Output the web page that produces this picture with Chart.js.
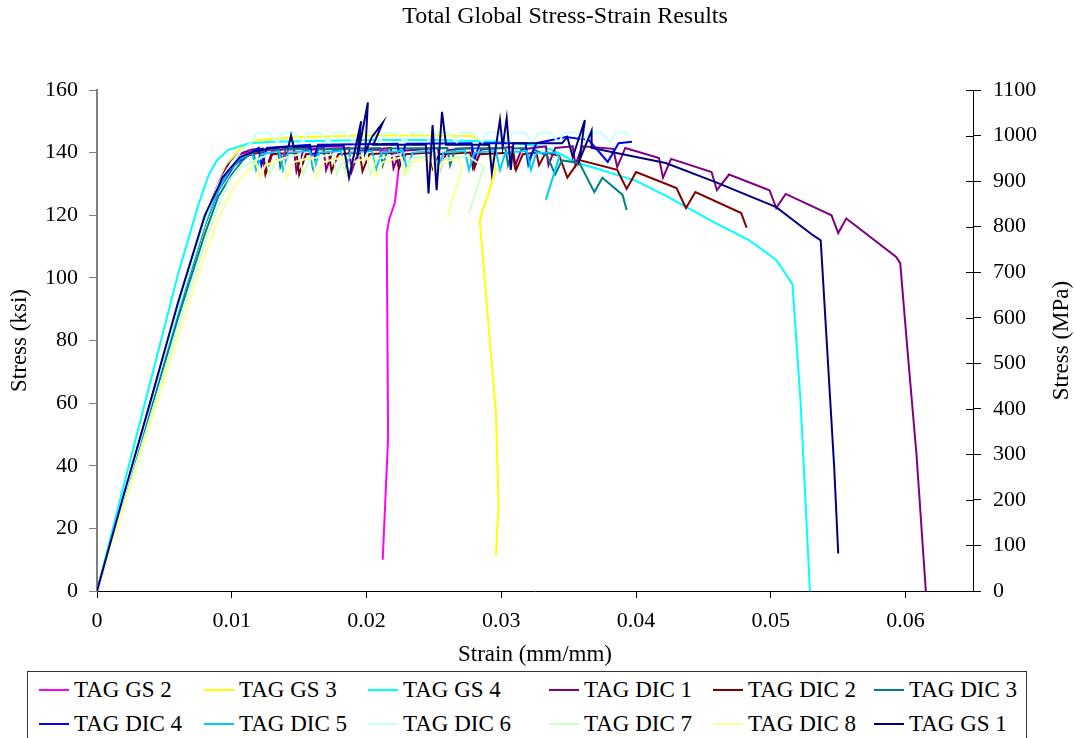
<!DOCTYPE html>
<html>
<head>
<meta charset="utf-8">
<script src="https://cdn.jsdelivr.net/npm/chart.js@4.4.1/dist/chart.umd.min.js"></script>
<style>
  body { margin: 0; background: #fff; }
  #wrap { position: relative; width: 1075px; height: 738px; overflow: hidden; }
  #legend { position: absolute; left: 27px; top: 671px; width: 1000px; height: 80px;
            border: 1px solid #333; box-sizing: border-box; background: #fff;
            font-family: "Liberation Serif", "Times New Roman", serif; font-size: 23px; }
  .item { position: absolute; white-space: nowrap; line-height: 24px; }
  .item i { display: inline-block; width: 30px; height: 2px; vertical-align: middle; margin-right: 5px; position: relative; top: -2px; }
</style>
</head>
<body>
<div id="wrap">
  <canvas id="stress" width="1075" height="738"></canvas>
  <div id="legend"></div>
</div>
<script>
// series names and colours (legend order)
const seriesNames = ['TAG GS 2', 'TAG GS 3', 'TAG GS 4', 'TAG DIC 1', 'TAG DIC 2', 'TAG DIC 3',
                     'TAG DIC 4', 'TAG DIC 5', 'TAG DIC 6', 'TAG DIC 7', 'TAG DIC 8', 'TAG GS 1'];
const seriesColors = ['#FF00FF', '#FFFF00', '#00FFFF', '#800080', '#800000', '#008080',
                      '#0000FF', '#00CCFF', '#CCFFFF', '#CCFFCC', '#FFFF99', '#000080'];

// [strain (mm/mm), stress (ksi)]
const gs2 = [[0,0],[0.002,30],[0.004,60],[0.006,90],[0.008,118],[0.009,130],[0.0098,136.5],[0.0105,139.5],
  [0.012,140.5],[0.0135,141],[0.0138,137],[0.0142,141],[0.016,141.2],[0.018,141.5],[0.02,141.2],[0.0215,140.5],
  [0.0222,139],[0.0224,135.4],[0.0221,124],[0.0217,119],[0.0215,114.3],[0.0216,49],[0.0212,10]];

const gs3 = [[0,0],[0.002,29],[0.004,58],[0.006,88],[0.008,116],[0.009,129],[0.0095,135],[0.0105,141],
  [0.012,144],[0.015,145],[0.02,145.5],[0.025,145.5],[0.0279,145.3],[0.029,142],[0.0296,134.5],
  [0.0284,118.5],[0.0296,57],[0.0298,27],[0.0296,11.5]];

const gs4 = [[0,0],[0.002,34],[0.004,67.5],[0.006,101],[0.0075,123],[0.0083,133],[0.0089,137.5],[0.0097,140.8],
  [0.0113,143],[0.013,143.5],[0.02,144],[0.025,144],[0.03,143.5],[0.033,142],[0.034,140.5],[0.0356,136.7],
  [0.0367,135.4],[0.04,131],[0.0424,125.8],[0.0459,117.5],[0.0484,112],[0.0504,105.7],[0.0516,98],
  [0.0522,61],[0.0529,0]];

const dic1 = [[0,0],[0.002,30],[0.004,61],[0.006,91],[0.008,119],[0.009,130],[0.0097,136],[0.0105,139.5],
  [0.0115,141],[0.0123,141.3],[0.0125,134],[0.013,140.5],[0.0146,141.5],[0.0148,134],[0.0153,140.5],
  [0.0168,141.5],[0.017,134.5],[0.0175,140.5],[0.0187,141.5],[0.0189,134],[0.0194,140.5],[0.0218,141.5],
  [0.022,135],[0.0225,140.5],[0.0253,141.5],[0.0255,135],[0.026,140.8],[0.0278,141.5],[0.028,135],
  [0.0285,141],[0.0308,141.8],[0.031,135.5],[0.0315,141],[0.0333,142],[0.0335,136],[0.034,141.5],
  [0.0353,142],[0.0355,136],[0.036,142],[0.0383,141.2],[0.0386,135.4],[0.0392,141.5],[0.0417,138.3],
  [0.042,132],[0.0426,138],[0.0456,133.8],[0.046,128],[0.0469,133],[0.0499,128],[0.0504,122.3],
  [0.0511,126.8],[0.0545,120],[0.055,114.3],[0.0556,119],[0.0593,106.7],[0.0596,104.7],[0.0602,73.8],
  [0.0608,44],[0.0615,0]];

const dic2 = [[0,0],[0.002,30],[0.004,60],[0.006,89],[0.008,117],[0.009,128],[0.0098,134.5],[0.0108,138.5],
  [0.012,140],[0.0123,140],[0.0125,133],[0.013,139.5],[0.0148,140],[0.015,133],[0.0155,139.5],[0.0172,140],
  [0.0174,134],[0.0179,139.5],[0.0195,140],[0.0197,134],[0.0202,139.5],[0.0222,140],[0.0224,135],
  [0.0229,139.5],[0.0247,140],[0.0249,135],[0.0254,139.5],[0.0277,140],[0.0279,135],[0.0284,139.5],
  [0.0309,140],[0.0311,134.5],[0.0316,139.5],[0.0326,140],[0.0328,136],[0.0333,140],[0.0343,139],
  [0.0349,132],[0.0358,137.6],[0.0386,134.5],[0.0393,128.4],[0.04,133.8],[0.043,128.7],[0.0437,122.3],
  [0.0444,127.4],[0.0478,120.7],[0.0482,116]];

const dic3 = [[0,0],[0.002,29],[0.004,58],[0.006,87],[0.008,114],[0.009,126],[0.01,133],[0.0108,137.5],
  [0.0116,140.5],[0.0118,135.5],[0.0122,140.5],[0.0134,141.5],[0.0136,135.5],[0.014,141],[0.0158,141.5],
  [0.016,135.5],[0.0164,141],[0.021,141.5],[0.0212,136],[0.0216,141.3],[0.026,141.5],[0.0262,136],
  [0.0266,141.3],[0.0303,141.5],[0.0305,136],[0.0309,141.3],[0.0318,141.5],[0.032,136],[0.0324,141],
  [0.0334,139],[0.034,133],[0.0345,137.5],[0.0358,136.7],[0.0369,127.4],[0.0375,132],[0.039,126.5],
  [0.0393,121.7]];

const dic4 = [[0,0],[0.002,30],[0.004,60],[0.006,89],[0.008,117],[0.009,128],[0.0102,136],[0.011,139],
  [0.012,141.5],[0.0122,136],[0.0126,141.5],[0.0158,142.5],[0.016,137],[0.0164,142.5],[0.0223,142.8],
  [0.0225,137],[0.0229,142.8],[0.0278,143],[0.028,137.5],[0.0284,143],[0.0318,143],[0.032,137],
  [0.0326,143],[0.0348,145],[0.0365,144],[0.0379,137],[0.0387,143],[0.0397,143.5]];

const dic5 = [[0,0],[0.002,30],[0.004,60],[0.006,89],[0.008,117],[0.009,128],[0.0098,134],[0.0106,138],
  [0.0115,140],[0.0118,134.5],[0.0122,139.5],[0.0135,140.5],[0.0138,134.5],[0.0142,140],[0.0158,140.5],
  [0.0161,134.5],[0.0165,140],[0.0181,140.5],[0.0184,134.5],[0.0188,140],[0.0204,140.5],[0.0207,134.5],
  [0.0211,140],[0.0227,140.5],[0.023,134.5],[0.0234,140],[0.025,140.5],[0.0253,134.5],[0.0257,140],
  [0.0273,140.5],[0.0276,134.5],[0.028,140],[0.0296,140.5],[0.0299,134.5],[0.0303,140],[0.0319,140.5],
  [0.0322,134.5],[0.0326,140],[0.034,140],[0.0343,138.6],[0.0333,124.9]];

const dic6 = [[0,0],[0.002,30],[0.004,60],[0.006,90],[0.008,118],[0.009,130],[0.01,137],[0.0108,141],
  [0.0115,143.3],[0.0118,146.3],[0.0127,146.5],[0.0131,144.5],[0.0134,143.3],[0.0137,146.3],[0.0146,146.5],
  [0.015,144.5],[0.0153,143.3],[0.0156,146.3],[0.0165,146.5],[0.0169,144.5],[0.0172,143.3],[0.0175,146.3],
  [0.0184,146.5],[0.0188,144.5],[0.0191,143.3],[0.0194,146.3],[0.0203,146.5],[0.0207,144.5],[0.021,143.3],
  [0.0213,146.3],[0.0222,146.5],[0.0226,144.5],[0.0229,143.3],[0.0232,146.3],[0.0241,146.5],[0.0245,144.5],
  [0.0248,143.3],[0.0251,146.3],[0.026,146.5],[0.0264,144.5],[0.0267,143.3],[0.027,146.3],[0.0279,146.5],
  [0.0283,144.5],[0.0286,143.3],[0.0289,146.3],[0.0298,146.5],[0.0302,144.5],[0.0305,143.3],[0.0308,146.3],
  [0.0317,146.5],[0.0321,144.5],[0.0324,143.3],[0.0327,146.3],[0.0336,146.5],[0.034,144.5],[0.0343,143.3],
  [0.0346,146.3],[0.0355,146.5],[0.0359,144.5],[0.0362,143.3],[0.0365,146.3],[0.0374,146.5],[0.0378,144.5],
  [0.0381,143.3],[0.0384,146.3],[0.0392,146.5],[0.0395,145]];

const dic7 = [[0,0],[0.002,28],[0.004,56],[0.006,84],[0.008,111],[0.009,123],[0.0098,131],[0.0105,135],
  [0.0115,137],[0.0125,139],[0.0128,133],[0.0133,137.5],[0.015,139.5],[0.0153,133],[0.0158,138],
  [0.0175,139.5],[0.0178,133],[0.0183,138],[0.02,139.5],[0.0203,133],[0.0208,138],[0.0225,139.5],
  [0.0228,133],[0.0233,138],[0.025,139.5],[0.0253,133],[0.0258,138],[0.0275,139],[0.0287,135.4],
  [0.0276,120.7]];

const dic8 = [[0,0],[0.002,27],[0.004,54],[0.006,81],[0.008,107],[0.009,119],[0.01,128],[0.0105,131],
  [0.0112,134],[0.0118,137],[0.0121,132],[0.0125,136],[0.0138,138],[0.0141,132],[0.0146,137],[0.016,138.5],
  [0.0163,132],[0.0168,137],[0.0182,138.5],[0.0185,132.5],[0.019,137],[0.0204,138.5],[0.0207,132.5],
  [0.0212,137],[0.0226,138.5],[0.0229,133],[0.0234,137],[0.0248,138.5],[0.0251,133],[0.0256,137],
  [0.0268,138],[0.0271,135.4],[0.026,119.4]];

const gs1 = [[0,0],[0.002,31],[0.004,61],[0.006,92],[0.008,120],[0.009,129],[0.0093,132],[0.0106,138.6],
  [0.0118,140.5],[0.013,141.5],[0.0142,141.8],[0.0144,145.5],[0.0146,141.8],[0.0183,142.3],[0.0187,132],
  [0.0196,150],[0.0193,138],[0.0201,156],[0.0199,140],[0.0204,145],[0.0212,149.5],[0.0205,142.5],
  [0.0244,142.5],[0.0246,127],[0.0249,148.8],[0.0252,128],[0.0256,153],[0.0259,142.5],[0.0291,142.5],
  [0.0293,133.5],[0.0299,150.4],[0.0301,141.8],[0.0304,151],[0.0307,134.5],[0.0309,143],[0.0345,143],
  [0.0349,145],[0.0353,138.6],[0.0362,150.4],[0.0358,137.6],[0.0367,147],[0.0367,141.5],[0.0422,136.7],
  [0.0459,130.6],[0.0504,122.6],[0.053,114],[0.0537,112],[0.0547,39.6],[0.055,12]];

const seriesData = [gs2, gs3, gs4, dic1, dic2, dic3, dic4, dic5, dic6, dic7, dic8, gs1];

const xTicks = [0, 0.01, 0.02, 0.03, 0.04, 0.05, 0.06];

const serif = '"Liberation Serif", "Times New Roman", serif';

// chart title (sits right of centre in the original) and the right-hand axis title,
// which reads bottom to top like the left one
const extraText = {
  id: 'extraText',
  afterDraw(chart) {
    const c = chart.ctx, a = chart.chartArea;
    c.save();
    c.fillStyle = '#000';
    c.textAlign = 'center';
    c.textBaseline = 'middle';
    c.font = '24px ' + serif;
    c.fillText('Total Global Stress-Strain Results', 565, 17);
    c.translate(1062, (a.top + a.bottom) / 2);
    c.rotate(-Math.PI / 2);
    c.font = '23px ' + serif;
    c.fillText('Stress (MPa)', 0, 0);
    c.restore();
    // inner half of the right axis ticks
    const s = chart.scales.y2;
    c.save();
    c.strokeStyle = '#000';
    c.lineWidth = 1;
    s.ticks.forEach(t => {
      const y = Math.round(s.getPixelForValue(t.value)) + 0.5;
      c.beginPath();
      c.moveTo(a.right - 7, y);
      c.lineTo(a.right, y);
      c.stroke();
    });
    c.restore();
  }
};

const ctx = document.getElementById('stress').getContext('2d');
new Chart(ctx, {
  type: 'scatter',
  data: {
    datasets: seriesData.map((d, i) => ({
      label: seriesNames[i],
      data: d.map(p => ({ x: p[0], y: p[1] })),
      showLine: true,
      borderColor: seriesColors[i],
      backgroundColor: seriesColors[i],
      borderWidth: 2,
      pointRadius: 0,
      order: seriesNames.length - i
    }))
  },
  options: {
    responsive: false,
    animation: false,
    layout: { padding: { left: 0, right: 0, top: 90, bottom: 67 } },
    plugins: {
      legend: { display: false },
      tooltip: { enabled: false },
      title: { display: false }
    },
    scales: {
      x: {
        type: 'linear', min: 0, max: 0.065,
        afterBuildTicks: s => { s.ticks = xTicks.map(v => ({ value: v })); },
        ticks: { color: '#000', font: { family: serif, size: 22 }, padding: 10,
                 callback: v => String(Math.round(v * 100) / 100) },
        grid: { drawOnChartArea: false, tickLength: 7, color: '#000' },
        border: { color: '#000' },
        title: { display: true, text: 'Strain (mm/mm)', color: '#000',
                 font: { family: serif, size: 23 }, padding: { bottom: 2 } },
        afterFit: s => { s.height = 80; }
      },
      y: {
        position: 'left', min: 0, max: 160,
        ticks: { stepSize: 20, color: '#000', font: { family: serif, size: 22 }, padding: 11 },
        grid: { drawOnChartArea: false, tickLength: 8, color: '#808080' },
        border: { color: '#808080', width: 2 },
        title: { display: true, text: 'Stress (ksi)', color: '#000',
                 font: { family: serif, size: 23 }, padding: { top: 6 } },
        afterFit: s => { s.width = 97; }
      },
      y2: {
        position: 'right', min: 0, max: 1100,
        ticks: { stepSize: 100, color: '#000', font: { family: serif, size: 22 }, padding: 12,
                 callback: v => String(v) },
        grid: { drawOnChartArea: false, tickLength: 8, color: '#000' },
        border: { color: '#000' },
        afterFit: s => { s.width = 102; }
      }
    }
  },
  plugins: [extraText]
});

// legend box: two rows of six
const legendCols = [38, 203, 367, 548, 712, 873];
const legendRows = [689, 723];
const legendEl = document.getElementById('legend');
seriesNames.forEach((name, i) => {
  const el = document.createElement('div');
  el.className = 'item';
  el.style.left = (legendCols[i % 6] - 27) + 'px';
  el.style.top = (legendRows[Math.floor(i / 6)] - 671 - 12) + 'px';
  el.innerHTML = '<i style="background:' + seriesColors[i] + '"></i>' + name;
  legendEl.appendChild(el);
});
</script>
</body>
</html>
